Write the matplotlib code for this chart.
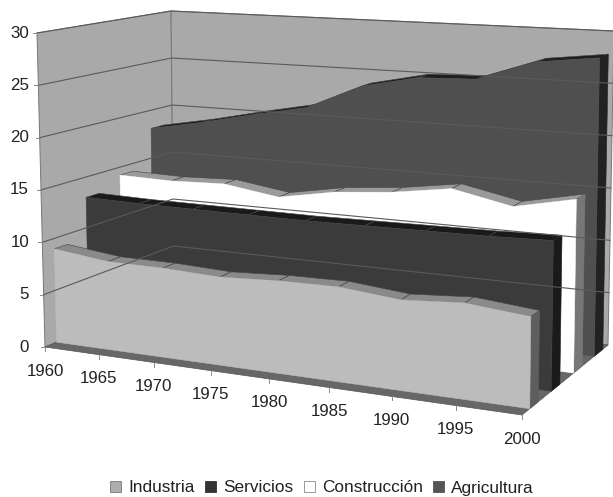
import numpy as np
import matplotlib
matplotlib.use("Agg")
import matplotlib.pyplot as plt
from matplotlib.patches import Patch

plt.rcParams['font.family'] = ['Liberation Sans', 'DejaVu Sans']

years = [1960, 1965, 1970, 1975, 1980, 1985, 1990, 1995, 2000]
industria = [9.0, 8.4, 8.4, 8.2, 8.5, 8.6, 8.1, 8.5, 8.0]
servicios = [13.0, 12.9, 12.9, 12.9, 12.9, 13.0, 13.1, 13.2, 13.4]
construccion = [14.2, 14.1, 14.3, 13.5, 14.5, 15.0, 15.85, 14.7, 15.9]
agricultura = [18.1, 19.1, 20.3, 21.4, 23.9, 25.1, 25.3, 27.3, 28.0]
y_ticks = [0, 5, 10, 15, 20, 25, 30]

# (series, front depth, front colour, top colour, side colour), back to front
layers = [
    (agricultura, 0.84, '#4f4f4f', '#1f1f1f', '#222222'),
    (construccion, 0.60, '#ffffff', '#9a9a9a', '#777777'),
    (servicios, 0.34, '#3b3b3b', '#1a1a1a', '#1a1a1a'),
    (industria, 0.09, '#bcbcbc', '#8a8a8a', '#5e5e5e'),
]
thickness = 0.1

# screen position of the chart box corners, this is the 3d view
FL0, FR0, BL0, BR0 = np.array([45, 347.]), np.array([522, 415.]), np.array([174, 293.]), np.array([608, 345.])
FL30, FR30, BL30, BR30 = np.array([37, 33.]), np.array([526, 66.]), np.array([171, 11.]), np.array([614, 31.])
persp = 1.128


def proj(i, d, z):
    t = i / (len(years) - 1)
    t = t / (t + (1 - t) * persp)
    low = (1 - d) * ((1 - t) * FL0 + t * FR0) + d * ((1 - t) * BL0 + t * BR0)
    high = (1 - d) * ((1 - t) * FL30 + t * FR30) + d * ((1 - t) * BL30 + t * BR30)
    return low + (high - low) * z / 30


fig = plt.figure(figsize=(6.13, 4.97), dpi=100)
ax = fig.add_axes([0, 0, 1, 1])
ax.set_xlim(0, 613)
ax.set_ylim(497, 0)
ax.axis('off')

last = len(years) - 1
wall = '#a9a9a9'
line = '#5a5a5a'

# walls and floor
ax.fill(*zip(proj(0, 0, 0), proj(0, 1, 0), proj(0, 1, 30), proj(0, 0, 30)), fc=wall, ec='#777777', lw=0.7)
ax.fill(*zip(proj(0, 1, 0), proj(last, 1, 0), proj(last, 1, 30), proj(0, 1, 30)), fc=wall, ec='#777777', lw=0.7)
ax.fill(*zip(proj(0, 0, 0), proj(last, 0, 0), proj(last, 1, 0), proj(0, 1, 0)), fc='#676767', ec='#555555', lw=0.5)

for z in y_ticks:
    a, b, c = proj(0, 0, z), proj(0, 1, z), proj(last, 1, z)
    if z > 0:
        ax.plot([a[0], b[0], c[0]], [a[1], b[1], c[1]], color=line, lw=0.8)
    ax.plot([a[0] - 4, a[0]], [a[1], a[1]], color='#888888', lw=0.7)
    ax.text(29, a[1], str(z), ha='right', va='center', fontsize=12.2, color='#222222')

for i, yr in enumerate(years):
    p = proj(i, 0, 0)
    ax.plot([p[0], p[0]], [p[1], p[1] + 4], color='#888888', lw=0.7)
    ax.text(p[0], p[1] + 24, str(yr), ha='center', va='center', fontsize=12.2, color='#222222')

# the area ribbons
for vals, d, front, top, side in layers:
    d2 = d + thickness
    for i in range(last):
        poly = [proj(i, d, vals[i]), proj(i + 1, d, vals[i + 1]), proj(i + 1, d2, vals[i + 1]), proj(i, d2, vals[i])]
        ax.fill(*zip(*poly), fc=top, ec='#444444', lw=0.4)
    poly = [proj(last, d, 0), proj(last, d2, 0), proj(last, d2, vals[last]), proj(last, d, vals[last])]
    ax.fill(*zip(*poly), fc=side, ec=side, lw=0.4)
    poly = [proj(0, d, 0)] + [proj(i, d, vals[i]) for i in range(last + 1)] + [proj(last, d, 0)]
    ax.fill(*zip(*poly), fc=front, ec=front, lw=0.4)

handles = [
    Patch(fc='#adadad', ec='#777777', lw=0.6, label='Industria'),
    Patch(fc='#333333', ec='#333333', lw=0.6, label='Servicios'),
    Patch(fc='#ffffff', ec='#888888', lw=0.6, label='Construcción'),
    Patch(fc='#555555', ec='#555555', lw=0.6, label='Agricultura'),
]
ax.legend(handles=handles, ncol=4, frameon=False, fontsize=12.4, loc='center',
          bbox_to_anchor=(322 / 613, 1 - 488 / 497), handlelength=0.65, handleheight=0.65,
          handletextpad=0.4, columnspacing=0.6, labelcolor='#222222')

fig.savefig('out.png', dpi=100)
